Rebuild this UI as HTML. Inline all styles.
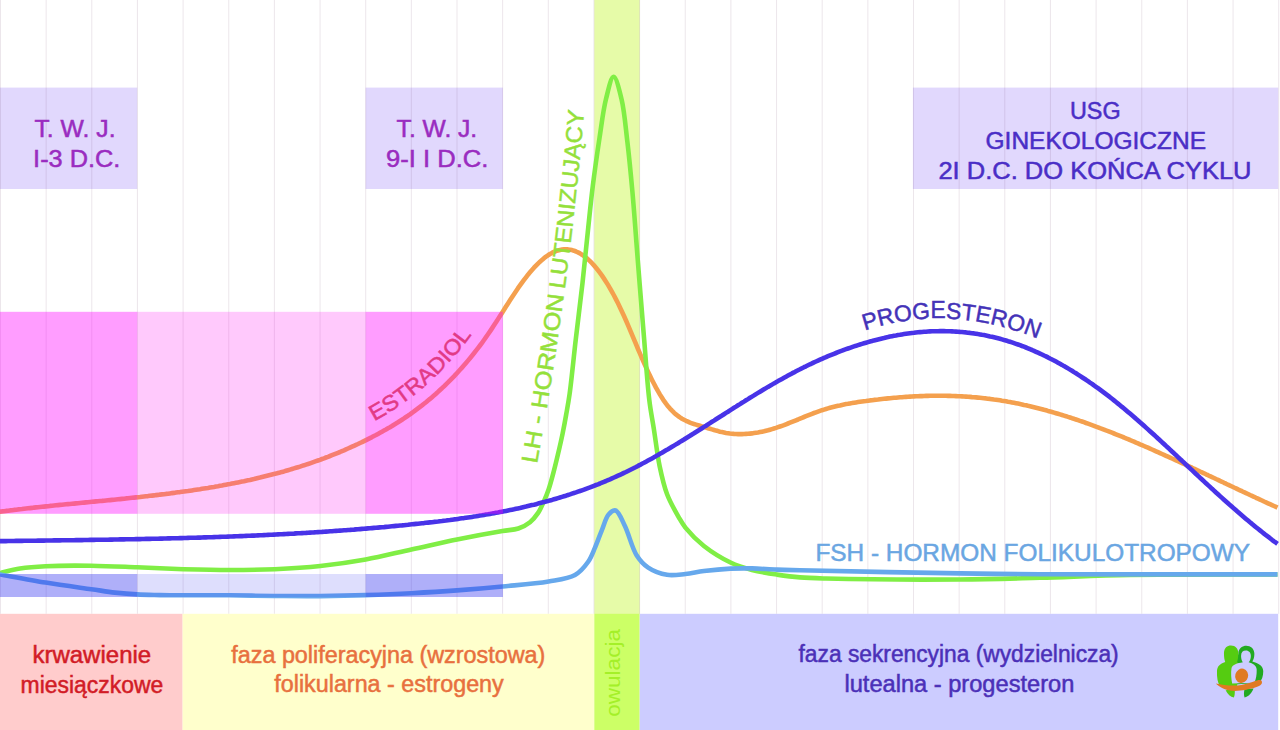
<!DOCTYPE html>
<html><head><meta charset="utf-8"><style>
html,body{margin:0;padding:0;background:#fff;}
body{width:1280px;height:730px;overflow:hidden;}
svg{display:block;}
text{font-family:"Liberation Sans",sans-serif;stroke-width:0.5;}
</style></head><body>
<svg width="1280" height="730" viewBox="0 0 1280 730">
<rect x="0" y="0" width="1280" height="730" fill="#fff"/>
<rect x="594.3" y="0" width="45.4" height="614" fill="#e6fba8"/>
<g fill="#e1d8fd">
<rect x="0" y="87.6" width="137.2" height="101.4"/>
<rect x="365.6" y="87.6" width="137.3" height="101.4"/>
<rect x="912.9" y="87.6" width="365.3" height="101.4"/>
</g>
<g stroke="#6a3c62" stroke-opacity="0.13" stroke-width="1">
<line x1="0.50" y1="0" x2="0.50" y2="613.8"/>
<line x1="46.15" y1="0" x2="46.15" y2="613.8"/>
<line x1="91.80" y1="0" x2="91.80" y2="613.8"/>
<line x1="137.45" y1="0" x2="137.45" y2="613.8"/>
<line x1="183.10" y1="0" x2="183.10" y2="613.8"/>
<line x1="228.75" y1="0" x2="228.75" y2="613.8"/>
<line x1="274.40" y1="0" x2="274.40" y2="613.8"/>
<line x1="320.05" y1="0" x2="320.05" y2="613.8"/>
<line x1="365.70" y1="0" x2="365.70" y2="613.8"/>
<line x1="411.35" y1="0" x2="411.35" y2="613.8"/>
<line x1="457.00" y1="0" x2="457.00" y2="613.8"/>
<line x1="502.65" y1="0" x2="502.65" y2="613.8"/>
<line x1="548.30" y1="0" x2="548.30" y2="613.8"/>
<line x1="593.95" y1="0" x2="593.95" y2="613.8"/>
<line x1="639.60" y1="0" x2="639.60" y2="613.8"/>
<line x1="685.25" y1="0" x2="685.25" y2="613.8"/>
<line x1="730.90" y1="0" x2="730.90" y2="613.8"/>
<line x1="776.55" y1="0" x2="776.55" y2="613.8"/>
<line x1="822.20" y1="0" x2="822.20" y2="613.8"/>
<line x1="867.85" y1="0" x2="867.85" y2="613.8"/>
<line x1="913.50" y1="0" x2="913.50" y2="613.8"/>
<line x1="959.15" y1="0" x2="959.15" y2="613.8"/>
<line x1="1004.80" y1="0" x2="1004.80" y2="613.8"/>
<line x1="1050.45" y1="0" x2="1050.45" y2="613.8"/>
<line x1="1096.10" y1="0" x2="1096.10" y2="613.8"/>
<line x1="1141.75" y1="0" x2="1141.75" y2="613.8"/>
<line x1="1187.40" y1="0" x2="1187.40" y2="613.8"/>
<line x1="1233.05" y1="0" x2="1233.05" y2="613.8"/>
<line x1="1278.70" y1="0" x2="1278.70" y2="613.8"/>
</g>
<g fill="none" stroke-width="4.6" stroke-linecap="butt" stroke-linejoin="round">
<path d="M-2.0,511.9 L0.0,511.7 L2.0,511.4 L4.0,511.2 L6.0,510.9 L8.0,510.7 L10.0,510.4 L12.0,510.2 L14.0,509.9 L16.0,509.7 L18.0,509.4 L20.0,509.2 L22.0,509.0 L24.0,508.7 L26.0,508.5 L28.0,508.3 L30.0,508.1 L32.0,507.9 L34.0,507.6 L36.0,507.4 L38.0,507.2 L40.0,507.0 L42.0,506.8 L44.0,506.6 L46.0,506.4 L48.0,506.2 L50.0,505.9 L52.0,505.7 L54.0,505.5 L56.0,505.3 L58.0,505.1 L60.0,504.9 L62.0,504.7 L64.0,504.5 L66.0,504.3 L68.0,504.1 L70.0,504.0 L72.0,503.8 L74.0,503.6 L76.0,503.4 L78.0,503.2 L80.0,503.0 L82.0,502.8 L84.0,502.6 L86.0,502.4 L88.0,502.2 L90.0,502.0 L92.0,501.8 L94.0,501.6 L96.0,501.4 L98.0,501.2 L100.0,501.0 L102.0,500.9 L104.0,500.7 L106.0,500.5 L108.0,500.3 L110.0,500.1 L112.0,499.9 L114.0,499.7 L116.0,499.5 L118.0,499.3 L120.0,499.1 L122.0,498.9 L124.0,498.7 L126.0,498.4 L128.0,498.2 L130.0,498.0 L132.0,497.8 L134.0,497.6 L136.0,497.4 L138.0,497.2 L140.0,497.0 L142.0,496.7 L144.0,496.5 L146.0,496.3 L148.0,496.1 L150.0,495.8 L152.0,495.6 L154.0,495.4 L156.0,495.1 L158.0,494.9 L160.0,494.6 L162.0,494.4 L164.0,494.2 L166.0,493.9 L168.0,493.7 L170.0,493.4 L172.0,493.1 L174.0,492.9 L176.0,492.6 L178.0,492.3 L180.0,492.1 L182.0,491.8 L184.0,491.5 L186.0,491.2 L188.0,491.0 L190.0,490.7 L192.0,490.4 L194.0,490.1 L196.0,489.8 L198.0,489.5 L200.0,489.2 L202.0,488.8 L204.0,488.5 L206.0,488.2 L208.0,487.9 L210.0,487.5 L212.0,487.2 L214.0,486.9 L216.0,486.5 L218.0,486.2 L220.0,485.8 L222.0,485.5 L224.0,485.1 L226.0,484.7 L228.0,484.3 L230.0,484.0 L232.0,483.6 L234.0,483.2 L236.0,482.8 L238.0,482.4 L240.0,482.0 L242.0,481.6 L244.0,481.2 L246.0,480.7 L248.0,480.3 L250.0,479.9 L252.0,479.4 L254.0,479.0 L256.0,478.5 L258.0,478.0 L260.0,477.6 L262.0,477.1 L264.0,476.6 L266.0,476.1 L268.0,475.6 L270.0,475.1 L272.0,474.6 L274.0,474.1 L276.0,473.6 L278.0,473.0 L280.0,472.5 L282.0,471.9 L284.0,471.4 L286.0,470.8 L288.0,470.2 L290.0,469.6 L292.0,469.0 L294.0,468.4 L296.0,467.8 L298.0,467.2 L300.0,466.6 L302.0,465.9 L304.0,465.3 L306.0,464.6 L308.0,464.0 L310.0,463.3 L312.0,462.6 L314.0,461.9 L316.0,461.2 L318.0,460.5 L320.0,459.8 L322.0,459.0 L324.0,458.3 L326.0,457.5 L328.0,456.8 L330.0,456.0 L332.0,455.2 L334.0,454.4 L336.0,453.6 L338.0,452.8 L340.0,452.0 L342.0,451.1 L344.0,450.3 L346.0,449.4 L348.0,448.5 L350.0,447.6 L352.0,446.7 L354.0,445.8 L356.0,444.9 L358.0,444.0 L360.0,443.0 L362.0,442.1 L364.0,441.1 L366.0,440.1 L368.0,439.1 L370.0,438.1 L372.0,437.1 L374.0,436.0 L376.0,435.0 L378.0,433.9 L380.0,432.8 L382.0,431.7 L384.0,430.6 L386.0,429.5 L388.0,428.3 L390.0,427.2 L392.0,426.0 L394.0,424.7 L396.0,423.5 L398.0,422.3 L400.0,421.0 L402.0,419.7 L404.0,418.4 L406.0,417.0 L408.0,415.7 L410.0,414.3 L412.0,412.8 L414.0,411.4 L416.0,409.9 L418.0,408.4 L420.0,406.9 L422.0,405.4 L424.0,403.8 L426.0,402.2 L428.0,400.5 L430.0,398.9 L432.0,397.2 L434.0,395.4 L436.0,393.7 L438.0,391.9 L440.0,390.0 L442.0,388.2 L444.0,386.3 L446.0,384.3 L448.0,382.4 L450.0,380.4 L452.0,378.3 L454.0,376.3 L456.0,374.2 L458.0,372.0 L460.0,369.8 L462.0,367.6 L464.0,365.3 L466.0,363.0 L468.0,360.6 L470.0,358.2 L472.0,355.8 L474.0,353.3 L476.0,350.7 L478.0,348.1 L480.0,345.5 L482.0,342.8 L484.0,340.0 L486.0,337.2 L488.0,334.3 L490.0,331.4 L492.0,328.4 L494.0,325.3 L496.0,322.3 L498.0,319.1 L500.0,316.0 L502.0,312.9 L504.0,309.7 L506.0,306.5 L508.0,303.4 L510.0,300.3 L512.0,297.2 L514.0,294.2 L516.0,291.2 L518.0,288.2 L520.0,285.4 L522.0,282.6 L524.0,279.9 L526.0,277.3 L528.0,274.7 L530.0,272.3 L532.0,270.0 L534.0,267.7 L536.0,265.6 L538.0,263.6 L540.0,261.7 L542.0,259.9 L544.0,258.2 L546.0,256.7 L548.0,255.3 L550.0,254.0 L552.0,252.9 L554.0,251.9 L556.0,251.1 L558.0,250.4 L560.0,249.9 L562.0,249.5 L564.0,249.3 L566.0,249.3 L568.0,249.4 L570.0,249.7 L572.0,250.1 L574.0,250.7 L576.0,251.5 L578.0,252.4 L580.0,253.4 L582.0,254.7 L584.0,256.1 L586.0,257.6 L588.0,259.3 L590.0,261.2 L592.0,263.2 L594.0,265.4 L596.0,267.7 L598.0,270.2 L600.0,272.8 L602.0,275.6 L604.0,278.6 L606.0,281.7 L608.0,284.9 L610.0,288.3 L612.0,291.9 L614.0,295.5 L616.0,299.4 L618.0,303.3 L620.0,307.4 L622.0,311.7 L624.0,316.0 L626.0,320.5 L628.0,325.2 L630.0,329.9 L632.0,334.6 L634.0,339.4 L636.0,344.2 L638.0,349.0 L640.0,353.6 L642.0,358.3 L644.0,362.8 L646.0,367.2 L648.0,371.6 L650.0,375.8 L652.0,379.9 L654.0,383.8 L656.0,387.6 L658.0,391.2 L660.0,394.6 L662.0,397.8 L664.0,400.9 L666.0,403.7 L668.0,406.3 L670.0,408.6 L672.0,410.7 L674.0,412.7 L676.0,414.4 L678.0,416.0 L680.0,417.4 L682.0,418.7 L684.0,419.8 L686.0,420.8 L688.0,421.7 L690.0,422.6 L692.0,423.3 L694.0,424.0 L696.0,424.6 L698.0,425.2 L700.0,425.8 L702.0,426.4 L704.0,427.0 L706.0,427.6 L708.0,428.2 L710.0,428.8 L712.0,429.4 L714.0,430.0 L716.0,430.6 L718.0,431.1 L720.0,431.7 L722.0,432.1 L724.0,432.5 L726.0,432.9 L728.0,433.2 L730.0,433.5 L732.0,433.7 L734.0,433.9 L736.0,434.0 L738.0,434.1 L740.0,434.1 L742.0,434.1 L744.0,434.0 L746.0,433.9 L748.0,433.8 L750.0,433.6 L752.0,433.4 L754.0,433.1 L756.0,432.8 L758.0,432.5 L760.0,432.1 L762.0,431.7 L764.0,431.3 L766.0,430.8 L768.0,430.3 L770.0,429.7 L772.0,429.1 L774.0,428.5 L776.0,427.9 L778.0,427.2 L780.0,426.5 L782.0,425.8 L784.0,425.1 L786.0,424.3 L788.0,423.5 L790.0,422.7 L792.0,421.9 L794.0,421.1 L796.0,420.3 L798.0,419.5 L800.0,418.6 L802.0,417.8 L804.0,417.0 L806.0,416.2 L808.0,415.4 L810.0,414.6 L812.0,413.8 L814.0,413.0 L816.0,412.3 L818.0,411.6 L820.0,410.9 L822.0,410.2 L824.0,409.6 L826.0,409.0 L828.0,408.4 L830.0,407.8 L832.0,407.3 L834.0,406.8 L836.0,406.3 L838.0,405.8 L840.0,405.4 L842.0,404.9 L844.0,404.5 L846.0,404.1 L848.0,403.8 L850.0,403.4 L852.0,403.1 L854.0,402.7 L856.0,402.4 L858.0,402.1 L860.0,401.8 L862.0,401.5 L864.0,401.2 L866.0,401.0 L868.0,400.7 L870.0,400.4 L872.0,400.2 L874.0,399.9 L876.0,399.7 L878.0,399.5 L880.0,399.2 L882.0,399.0 L884.0,398.8 L886.0,398.6 L888.0,398.4 L890.0,398.2 L892.0,398.0 L894.0,397.8 L896.0,397.7 L898.0,397.5 L900.0,397.3 L902.0,397.2 L904.0,397.0 L906.0,396.9 L908.0,396.8 L910.0,396.6 L912.0,396.5 L914.0,396.4 L916.0,396.3 L918.0,396.2 L920.0,396.1 L922.0,396.1 L924.0,396.0 L926.0,395.9 L928.0,395.9 L930.0,395.8 L932.0,395.8 L934.0,395.8 L936.0,395.8 L938.0,395.8 L940.0,395.8 L942.0,395.8 L944.0,395.8 L946.0,395.8 L948.0,395.9 L950.0,395.9 L952.0,396.0 L954.0,396.0 L956.0,396.1 L958.0,396.2 L960.0,396.3 L962.0,396.4 L964.0,396.5 L966.0,396.6 L968.0,396.8 L970.0,396.9 L972.0,397.1 L974.0,397.2 L976.0,397.4 L978.0,397.6 L980.0,397.8 L982.0,398.0 L984.0,398.2 L986.0,398.4 L988.0,398.7 L990.0,398.9 L992.0,399.2 L994.0,399.5 L996.0,399.7 L998.0,400.0 L1000.0,400.3 L1002.0,400.7 L1004.0,401.0 L1006.0,401.3 L1008.0,401.7 L1010.0,402.0 L1012.0,402.4 L1014.0,402.8 L1016.0,403.2 L1018.0,403.6 L1020.0,404.0 L1022.0,404.4 L1024.0,404.9 L1026.0,405.3 L1028.0,405.8 L1030.0,406.2 L1032.0,406.7 L1034.0,407.2 L1036.0,407.7 L1038.0,408.2 L1040.0,408.7 L1042.0,409.2 L1044.0,409.8 L1046.0,410.3 L1048.0,410.9 L1050.0,411.4 L1052.0,412.0 L1054.0,412.6 L1056.0,413.2 L1058.0,413.8 L1060.0,414.4 L1062.0,415.0 L1064.0,415.6 L1066.0,416.2 L1068.0,416.9 L1070.0,417.5 L1072.0,418.2 L1074.0,418.8 L1076.0,419.5 L1078.0,420.2 L1080.0,420.9 L1082.0,421.5 L1084.0,422.2 L1086.0,423.0 L1088.0,423.7 L1090.0,424.4 L1092.0,425.1 L1094.0,425.8 L1096.0,426.6 L1098.0,427.3 L1100.0,428.1 L1102.0,428.8 L1104.0,429.6 L1106.0,430.4 L1108.0,431.1 L1110.0,431.9 L1112.0,432.7 L1114.0,433.5 L1116.0,434.3 L1118.0,435.1 L1120.0,435.9 L1122.0,436.7 L1124.0,437.5 L1126.0,438.4 L1128.0,439.2 L1130.0,440.0 L1132.0,440.9 L1134.0,441.7 L1136.0,442.6 L1138.0,443.4 L1140.0,444.3 L1142.0,445.1 L1144.0,446.0 L1146.0,446.9 L1148.0,447.7 L1150.0,448.6 L1152.0,449.5 L1154.0,450.4 L1156.0,451.3 L1158.0,452.2 L1160.0,453.1 L1162.0,454.0 L1164.0,454.9 L1166.0,455.8 L1168.0,456.7 L1170.0,457.6 L1172.0,458.5 L1174.0,459.4 L1176.0,460.3 L1178.0,461.2 L1180.0,462.2 L1182.0,463.1 L1184.0,464.0 L1186.0,464.9 L1188.0,465.9 L1190.0,466.8 L1192.0,467.7 L1194.0,468.7 L1196.0,469.6 L1198.0,470.5 L1200.0,471.5 L1202.0,472.4 L1204.0,473.3 L1206.0,474.3 L1208.0,475.2 L1210.0,476.2 L1212.0,477.1 L1214.0,478.0 L1216.0,479.0 L1218.0,479.9 L1220.0,480.9 L1222.0,481.8 L1224.0,482.8 L1226.0,483.7 L1228.0,484.7 L1230.0,485.6 L1232.0,486.5 L1234.0,487.5 L1236.0,488.4 L1238.0,489.4 L1240.0,490.3 L1242.0,491.2 L1244.0,492.2 L1246.0,493.1 L1248.0,494.0 L1250.0,495.0 L1252.0,495.9 L1254.0,496.8 L1256.0,497.8 L1258.0,498.7 L1260.0,499.6 L1262.0,500.5 L1264.0,501.5 L1266.0,502.4 L1268.0,503.3 L1270.0,504.2 L1272.0,505.1 L1274.0,506.0 L1276.0,506.9 L1277.5,507.6" stroke="#f4a04e"/>
<path d="M-2.0,573.4 C-1.7,573.3 -1.0,573.2 0.0,573.0 C3.2,572.3 12.9,569.6 20.0,568.5 C28.0,567.3 35.9,566.7 45.6,566.2 C58.7,565.5 76.1,565.5 91.3,565.7 C106.5,565.9 121.7,566.7 137.0,567.3 C152.4,567.9 168.0,568.7 183.4,569.2 C198.7,569.6 213.9,570.0 229.1,570.0 C244.3,570.0 259.4,569.9 274.6,569.2 C289.8,568.5 305.1,567.6 320.3,566.0 C335.5,564.4 350.6,562.2 365.7,559.5 C381.0,556.7 396.2,552.8 411.4,549.5 C426.6,546.2 441.8,542.6 457.0,539.5 C472.2,536.4 491.2,532.9 502.5,531.0 C509.1,529.9 513.6,530.1 518.3,528.5 C522.6,527.0 526.7,524.9 530.0,522.2 C533.2,519.6 535.8,516.3 538.1,512.9 C540.5,509.4 542.2,505.1 544.0,501.2 C545.7,497.4 547.2,493.8 548.6,489.6 C550.3,484.6 551.8,478.9 553.3,473.2 C554.9,467.2 556.4,461.0 557.9,454.6 C559.5,447.8 561.2,440.4 562.6,433.6 C563.9,427.2 565.0,421.4 566.1,415.0 C567.3,408.2 568.4,402.6 569.6,394.0 C571.5,380.2 573.6,358.2 575.7,340.0 C577.9,321.3 580.4,301.4 582.5,283.0 C584.4,265.8 586.0,249.4 587.7,233.0 C589.4,217.1 590.8,201.7 592.8,186.0 C594.8,170.1 597.2,153.2 599.5,138.0 C601.6,124.3 603.2,110.1 606.0,99.0 C608.2,90.5 611.0,76.8 613.6,76.8 C616.2,76.8 619.4,90.3 621.5,99.0 C624.4,110.9 625.6,127.1 627.4,142.0 C629.3,157.9 630.9,175.1 632.4,191.6 C633.9,208.1 635.1,225.3 636.3,241.0 C637.4,255.3 638.3,267.2 639.5,282.0 C640.9,299.7 642.6,320.5 644.2,340.0 C645.8,359.8 647.3,383.5 649.3,400.0 C650.7,411.7 652.4,419.5 654.0,430.0 C655.8,441.5 657.3,454.8 659.6,466.0 C661.7,476.0 663.7,485.3 667.0,494.0 C670.1,502.2 675.0,510.7 678.5,516.8 C681.0,521.1 682.3,523.7 685.4,527.6 C689.9,533.1 696.8,540.4 703.9,546.0 C711.7,552.1 721.9,558.4 730.5,562.5 C737.8,566.0 744.5,568.0 752.0,570.0 C759.9,572.1 768.8,573.4 777.0,574.6 C784.8,575.8 792.1,576.8 800.0,577.4 C808.4,578.1 814.0,578.2 826.0,578.5 C853.3,579.2 921.1,579.8 960.0,579.5 C990.1,579.3 1012.6,578.5 1040.0,577.8 C1069.1,577.0 1096.3,575.6 1130.0,575.0 C1173.1,574.3 1252.9,574.6 1277.5,574.5" stroke="#80ee45"/>
<path d="M-2.0,574.1 C-1.7,574.1 -1.1,574.2 0.0,574.4 C5.3,575.3 30.4,580.1 45.6,582.6 C60.8,585.1 78.6,587.4 91.3,589.2 C100.5,590.5 107.2,591.7 115.0,592.6 C122.5,593.4 129.6,594.0 137.0,594.4 C144.6,594.8 152.3,594.9 160.0,595.1 C167.8,595.3 174.3,595.3 183.4,595.3 C196.1,595.4 213.9,595.2 229.1,595.3 C244.3,595.4 259.4,595.9 274.6,596.0 C289.8,596.1 305.1,596.3 320.3,596.1 C335.5,595.9 350.5,595.6 365.7,595.1 C380.9,594.6 396.2,594.0 411.4,593.2 C426.6,592.4 441.8,591.5 457.0,590.4 C472.2,589.3 487.3,588.0 502.5,586.5 C517.8,585.0 535.4,583.8 548.6,581.5 C558.7,579.7 568.1,578.9 575.0,575.0 C580.6,571.8 584.6,566.8 588.0,562.0 C591.2,557.6 592.8,552.6 595.0,547.6 C597.3,542.3 599.3,536.3 601.6,530.8 C603.9,525.3 605.6,517.9 608.6,514.5 C610.6,512.2 613.4,509.9 615.6,510.5 C618.9,511.4 621.9,519.9 624.9,526.0 C628.9,534.1 631.9,547.8 636.6,555.2 C640.0,560.6 643.4,564.4 648.2,567.6 C653.4,571.1 660.7,573.8 667.0,574.8 C673.1,575.8 679.3,574.6 685.4,574.0 C691.6,573.4 697.2,571.8 703.9,571.0 C711.9,570.0 722.1,569.0 730.5,568.6 C738.0,568.2 744.6,568.3 752.0,568.4 C760.0,568.6 768.8,569.3 777.0,569.6 C784.8,569.9 788.9,570.0 800.0,570.3 C829.3,571.0 915.8,572.8 960.0,573.4 C991.2,573.9 1006.3,574.0 1040.0,574.2 C1098.1,574.5 1237.9,574.4 1277.5,574.4" stroke="#66a8ec"/>
<path d="M-2.0,541.2 L0.0,541.1 L2.0,541.1 L4.0,541.1 L6.0,541.1 L8.0,541.0 L10.0,541.0 L12.0,541.0 L14.0,541.0 L16.0,540.9 L18.0,540.9 L20.0,540.9 L22.0,540.9 L24.0,540.8 L26.0,540.8 L28.0,540.8 L30.0,540.8 L32.0,540.7 L34.0,540.7 L36.0,540.7 L38.0,540.6 L40.0,540.6 L42.0,540.6 L44.0,540.6 L46.0,540.5 L48.0,540.5 L50.0,540.5 L52.0,540.5 L54.0,540.4 L56.0,540.4 L58.0,540.4 L60.0,540.4 L62.0,540.3 L64.0,540.3 L66.0,540.3 L68.0,540.3 L70.0,540.2 L72.0,540.2 L74.0,540.2 L76.0,540.1 L78.0,540.1 L80.0,540.1 L82.0,540.1 L84.0,540.0 L86.0,540.0 L88.0,540.0 L90.0,539.9 L92.0,539.9 L94.0,539.9 L96.0,539.8 L98.0,539.8 L100.0,539.8 L102.0,539.7 L104.0,539.7 L106.0,539.7 L108.0,539.7 L110.0,539.6 L112.0,539.6 L114.0,539.5 L116.0,539.5 L118.0,539.5 L120.0,539.4 L122.0,539.4 L124.0,539.4 L126.0,539.3 L128.0,539.3 L130.0,539.3 L132.0,539.2 L134.0,539.2 L136.0,539.1 L138.0,539.1 L140.0,539.1 L142.0,539.0 L144.0,539.0 L146.0,538.9 L148.0,538.9 L150.0,538.9 L152.0,538.8 L154.0,538.8 L156.0,538.7 L158.0,538.7 L160.0,538.6 L162.0,538.6 L164.0,538.5 L166.0,538.5 L168.0,538.4 L170.0,538.4 L172.0,538.3 L174.0,538.3 L176.0,538.2 L178.0,538.2 L180.0,538.1 L182.0,538.1 L184.0,538.0 L186.0,538.0 L188.0,537.9 L190.0,537.8 L192.0,537.8 L194.0,537.7 L196.0,537.7 L198.0,537.6 L200.0,537.6 L202.0,537.5 L204.0,537.4 L206.0,537.4 L208.0,537.3 L210.0,537.2 L212.0,537.2 L214.0,537.1 L216.0,537.0 L218.0,537.0 L220.0,536.9 L222.0,536.8 L224.0,536.8 L226.0,536.7 L228.0,536.6 L230.0,536.5 L232.0,536.5 L234.0,536.4 L236.0,536.3 L238.0,536.2 L240.0,536.1 L242.0,536.1 L244.0,536.0 L246.0,535.9 L248.0,535.8 L250.0,535.7 L252.0,535.6 L254.0,535.6 L256.0,535.5 L258.0,535.4 L260.0,535.3 L262.0,535.2 L264.0,535.1 L266.0,535.0 L268.0,534.9 L270.0,534.8 L272.0,534.7 L274.0,534.6 L276.0,534.5 L278.0,534.4 L280.0,534.3 L282.0,534.2 L284.0,534.1 L286.0,534.0 L288.0,533.9 L290.0,533.8 L292.0,533.7 L294.0,533.6 L296.0,533.4 L298.0,533.3 L300.0,533.2 L302.0,533.1 L304.0,533.0 L306.0,532.9 L308.0,532.7 L310.0,532.6 L312.0,532.5 L314.0,532.4 L316.0,532.2 L318.0,532.1 L320.0,532.0 L322.0,531.9 L324.0,531.7 L326.0,531.6 L328.0,531.5 L330.0,531.3 L332.0,531.2 L334.0,531.0 L336.0,530.9 L338.0,530.8 L340.0,530.6 L342.0,530.5 L344.0,530.3 L346.0,530.2 L348.0,530.0 L350.0,529.9 L352.0,529.7 L354.0,529.6 L356.0,529.4 L358.0,529.3 L360.0,529.1 L362.0,528.9 L364.0,528.8 L366.0,528.6 L368.0,528.4 L370.0,528.3 L372.0,528.1 L374.0,527.9 L376.0,527.8 L378.0,527.6 L380.0,527.4 L382.0,527.2 L384.0,527.1 L386.0,526.9 L388.0,526.7 L390.0,526.5 L392.0,526.3 L394.0,526.1 L396.0,525.9 L398.0,525.7 L400.0,525.5 L402.0,525.4 L404.0,525.2 L406.0,525.0 L408.0,524.8 L410.0,524.5 L412.0,524.3 L414.0,524.1 L416.0,523.9 L418.0,523.7 L420.0,523.5 L422.0,523.3 L424.0,523.1 L426.0,522.8 L428.0,522.6 L430.0,522.4 L432.0,522.2 L434.0,521.9 L436.0,521.7 L438.0,521.5 L440.0,521.2 L442.0,521.0 L444.0,520.7 L446.0,520.5 L448.0,520.2 L450.0,520.0 L452.0,519.7 L454.0,519.4 L456.0,519.2 L458.0,518.9 L460.0,518.6 L462.0,518.3 L464.0,518.1 L466.0,517.8 L468.0,517.5 L470.0,517.2 L472.0,516.9 L474.0,516.6 L476.0,516.3 L478.0,515.9 L480.0,515.6 L482.0,515.3 L484.0,514.9 L486.0,514.6 L488.0,514.3 L490.0,513.9 L492.0,513.6 L494.0,513.2 L496.0,512.8 L498.0,512.5 L500.0,512.1 L502.0,511.7 L504.0,511.3 L506.0,510.9 L508.0,510.5 L510.0,510.1 L512.0,509.7 L514.0,509.3 L516.0,508.8 L518.0,508.4 L520.0,508.0 L522.0,507.5 L524.0,507.0 L526.0,506.6 L528.0,506.1 L530.0,505.6 L532.0,505.1 L534.0,504.7 L536.0,504.2 L538.0,503.6 L540.0,503.1 L542.0,502.6 L544.0,502.1 L546.0,501.5 L548.0,501.0 L550.0,500.4 L552.0,499.9 L554.0,499.3 L556.0,498.7 L558.0,498.1 L560.0,497.5 L562.0,496.9 L564.0,496.3 L566.0,495.7 L568.0,495.0 L570.0,494.4 L572.0,493.7 L574.0,493.0 L576.0,492.4 L578.0,491.7 L580.0,491.0 L582.0,490.3 L584.0,489.6 L586.0,488.8 L588.0,488.1 L590.0,487.4 L592.0,486.6 L594.0,485.8 L596.0,485.0 L598.0,484.3 L600.0,483.5 L602.0,482.6 L604.0,481.8 L606.0,481.0 L608.0,480.1 L610.0,479.3 L612.0,478.4 L614.0,477.5 L616.0,476.6 L618.0,475.7 L620.0,474.8 L622.0,473.9 L624.0,472.9 L626.0,472.0 L628.0,471.0 L630.0,470.0 L632.0,469.0 L634.0,468.0 L636.0,467.0 L638.0,465.9 L640.0,464.9 L642.0,463.8 L644.0,462.8 L646.0,461.7 L648.0,460.6 L650.0,459.5 L652.0,458.4 L654.0,457.3 L656.0,456.1 L658.0,455.0 L660.0,453.8 L662.0,452.7 L664.0,451.5 L666.0,450.3 L668.0,449.2 L670.0,448.0 L672.0,446.8 L674.0,445.6 L676.0,444.4 L678.0,443.2 L680.0,441.9 L682.0,440.7 L684.0,439.5 L686.0,438.2 L688.0,437.0 L690.0,435.8 L692.0,434.5 L694.0,433.3 L696.0,432.0 L698.0,430.7 L700.0,429.5 L702.0,428.2 L704.0,426.9 L706.0,425.7 L708.0,424.4 L710.0,423.1 L712.0,421.8 L714.0,420.6 L716.0,419.3 L718.0,418.0 L720.0,416.7 L722.0,415.5 L724.0,414.2 L726.0,412.9 L728.0,411.7 L730.0,410.4 L732.0,409.1 L734.0,407.8 L736.0,406.6 L738.0,405.3 L740.0,404.1 L742.0,402.8 L744.0,401.6 L746.0,400.3 L748.0,399.1 L750.0,397.8 L752.0,396.6 L754.0,395.4 L756.0,394.1 L758.0,392.9 L760.0,391.7 L762.0,390.5 L764.0,389.3 L766.0,388.1 L768.0,386.9 L770.0,385.8 L772.0,384.6 L774.0,383.4 L776.0,382.3 L778.0,381.1 L780.0,380.0 L782.0,378.9 L784.0,377.8 L786.0,376.7 L788.0,375.6 L790.0,374.5 L792.0,373.4 L794.0,372.4 L796.0,371.3 L798.0,370.3 L800.0,369.3 L802.0,368.2 L804.0,367.2 L806.0,366.3 L808.0,365.3 L810.0,364.3 L812.0,363.4 L814.0,362.4 L816.0,361.5 L818.0,360.6 L820.0,359.7 L822.0,358.8 L824.0,357.9 L826.0,357.1 L828.0,356.2 L830.0,355.4 L832.0,354.6 L834.0,353.8 L836.0,353.0 L838.0,352.2 L840.0,351.4 L842.0,350.7 L844.0,349.9 L846.0,349.2 L848.0,348.5 L850.0,347.8 L852.0,347.1 L854.0,346.4 L856.0,345.8 L858.0,345.1 L860.0,344.5 L862.0,343.9 L864.0,343.3 L866.0,342.7 L868.0,342.1 L870.0,341.5 L872.0,341.0 L874.0,340.4 L876.0,339.9 L878.0,339.4 L880.0,338.9 L882.0,338.4 L884.0,338.0 L886.0,337.5 L888.0,337.1 L890.0,336.6 L892.0,336.2 L894.0,335.8 L896.0,335.5 L898.0,335.1 L900.0,334.8 L902.0,334.4 L904.0,334.1 L906.0,333.8 L908.0,333.5 L910.0,333.2 L912.0,333.0 L914.0,332.8 L916.0,332.5 L918.0,332.3 L920.0,332.1 L922.0,332.0 L924.0,331.8 L926.0,331.7 L928.0,331.5 L930.0,331.4 L932.0,331.3 L934.0,331.3 L936.0,331.2 L938.0,331.2 L940.0,331.1 L942.0,331.1 L944.0,331.1 L946.0,331.2 L948.0,331.2 L950.0,331.3 L952.0,331.4 L954.0,331.5 L956.0,331.6 L958.0,331.7 L960.0,331.9 L962.0,332.0 L964.0,332.2 L966.0,332.4 L968.0,332.7 L970.0,332.9 L972.0,333.2 L974.0,333.4 L976.0,333.7 L978.0,334.1 L980.0,334.4 L982.0,334.8 L984.0,335.1 L986.0,335.5 L988.0,335.9 L990.0,336.4 L992.0,336.8 L994.0,337.3 L996.0,337.8 L998.0,338.3 L1000.0,338.8 L1002.0,339.4 L1004.0,340.0 L1006.0,340.5 L1008.0,341.2 L1010.0,341.8 L1012.0,342.4 L1014.0,343.1 L1016.0,343.8 L1018.0,344.5 L1020.0,345.2 L1022.0,346.0 L1024.0,346.7 L1026.0,347.5 L1028.0,348.3 L1030.0,349.2 L1032.0,350.0 L1034.0,350.9 L1036.0,351.8 L1038.0,352.7 L1040.0,353.6 L1042.0,354.5 L1044.0,355.5 L1046.0,356.4 L1048.0,357.4 L1050.0,358.5 L1052.0,359.5 L1054.0,360.5 L1056.0,361.6 L1058.0,362.7 L1060.0,363.8 L1062.0,364.9 L1064.0,366.1 L1066.0,367.2 L1068.0,368.4 L1070.0,369.6 L1072.0,370.8 L1074.0,372.1 L1076.0,373.3 L1078.0,374.6 L1080.0,375.9 L1082.0,377.2 L1084.0,378.5 L1086.0,379.8 L1088.0,381.2 L1090.0,382.6 L1092.0,383.9 L1094.0,385.4 L1096.0,386.8 L1098.0,388.2 L1100.0,389.7 L1102.0,391.2 L1104.0,392.7 L1106.0,394.2 L1108.0,395.7 L1110.0,397.2 L1112.0,398.8 L1114.0,400.4 L1116.0,402.0 L1118.0,403.6 L1120.0,405.2 L1122.0,406.9 L1124.0,408.5 L1126.0,410.2 L1128.0,411.9 L1130.0,413.6 L1132.0,415.3 L1134.0,417.0 L1136.0,418.8 L1138.0,420.5 L1140.0,422.3 L1142.0,424.0 L1144.0,425.8 L1146.0,427.6 L1148.0,429.4 L1150.0,431.2 L1152.0,433.0 L1154.0,434.8 L1156.0,436.6 L1158.0,438.5 L1160.0,440.3 L1162.0,442.2 L1164.0,444.0 L1166.0,445.9 L1168.0,447.7 L1170.0,449.6 L1172.0,451.5 L1174.0,453.3 L1176.0,455.2 L1178.0,457.1 L1180.0,459.0 L1182.0,460.8 L1184.0,462.7 L1186.0,464.6 L1188.0,466.5 L1190.0,468.3 L1192.0,470.2 L1194.0,472.1 L1196.0,474.0 L1198.0,475.8 L1200.0,477.7 L1202.0,479.5 L1204.0,481.4 L1206.0,483.3 L1208.0,485.1 L1210.0,486.9 L1212.0,488.8 L1214.0,490.6 L1216.0,492.5 L1218.0,494.3 L1220.0,496.1 L1222.0,497.9 L1224.0,499.7 L1226.0,501.5 L1228.0,503.3 L1230.0,505.1 L1232.0,506.8 L1234.0,508.6 L1236.0,510.3 L1238.0,512.1 L1240.0,513.8 L1242.0,515.5 L1244.0,517.2 L1246.0,518.9 L1248.0,520.6 L1250.0,522.3 L1252.0,523.9 L1254.0,525.6 L1256.0,527.2 L1258.0,528.8 L1260.0,530.4 L1262.0,532.0 L1264.0,533.6 L1266.0,535.2 L1268.0,536.7 L1270.0,538.2 L1272.0,539.8 L1274.0,541.3 L1276.0,542.7 L1277.5,543.8" stroke="#4833e8"/>
</g>
<rect x="0" y="311.8" width="137.2" height="202" fill="#ff00ff" fill-opacity="0.385"/>
<rect x="137.2" y="311.8" width="228.4" height="202" fill="#ff00f0" fill-opacity="0.21"/>
<rect x="365.6" y="311.8" width="137.3" height="202" fill="#ff00ff" fill-opacity="0.385"/>
<rect x="0" y="574" width="137.2" height="23" fill="#3030f0" fill-opacity="0.385"/>
<rect x="137.2" y="574" width="228.4" height="23" fill="#3030f0" fill-opacity="0.16"/>
<rect x="365.6" y="574" width="137.3" height="23" fill="#3030f0" fill-opacity="0.385"/>
<rect x="0" y="613.8" width="182.6" height="116.2" fill="#ffcccc"/>
<rect x="182.6" y="613.8" width="411.7" height="116.2" fill="#ffffcc"/>
<rect x="594.3" y="613.8" width="45.4" height="116.2" fill="#ccff66"/>
<rect x="639.7" y="613.8" width="638.5" height="116.2" fill="#ccccff"/>
<text x="75.0" y="137.0" fill="#9a2cc0" stroke="#9a2cc0" font-size="23" text-anchor="middle" textLength="81.0" lengthAdjust="spacingAndGlyphs">T. W. J.</text>
<text x="76.7" y="167.0" fill="#9a2cc0" stroke="#9a2cc0" font-size="23" text-anchor="middle" textLength="87.2" lengthAdjust="spacingAndGlyphs">I-3 D.C.</text>
<text x="436.9" y="137.2" fill="#9a2cc0" stroke="#9a2cc0" font-size="23" text-anchor="middle" textLength="80.6" lengthAdjust="spacingAndGlyphs">T. W. J.</text>
<text x="437.2" y="167.0" fill="#9a2cc0" stroke="#9a2cc0" font-size="23" text-anchor="middle" textLength="102.3" lengthAdjust="spacingAndGlyphs">9-I I D.C.</text>
<text x="1095.3" y="118.7" fill="#4a2ec6" stroke="#4a2ec6" font-size="23" text-anchor="middle" textLength="50.6" lengthAdjust="spacingAndGlyphs">USG</text>
<text x="1095.8" y="149.0" fill="#4a2ec6" stroke="#4a2ec6" font-size="23" text-anchor="middle" textLength="220.5" lengthAdjust="spacingAndGlyphs">GINEKOLOGICZNE</text>
<text x="1095.0" y="178.5" fill="#4a2ec6" stroke="#4a2ec6" font-size="23" text-anchor="middle" textLength="313.1" lengthAdjust="spacingAndGlyphs">2I D.C. DO KOŃCA CYKLU</text>
<text x="91.8" y="663.2" fill="#d21c26" stroke="#d21c26" font-size="23" text-anchor="middle" textLength="118.8" lengthAdjust="spacingAndGlyphs">krwawienie</text>
<text x="91.9" y="693.1" fill="#d21c26" stroke="#d21c26" font-size="23" text-anchor="middle" textLength="142.6" lengthAdjust="spacingAndGlyphs">miesiączkowe</text>
<text x="388.3" y="662.7" fill="#e8703e" stroke="#e8703e" font-size="23" text-anchor="middle" textLength="314.1" lengthAdjust="spacingAndGlyphs">faza poliferacyjna (wzrostowa)</text>
<text x="389.0" y="692.4" fill="#e8703e" stroke="#e8703e" font-size="23" text-anchor="middle" textLength="229.5" lengthAdjust="spacingAndGlyphs">folikularna - estrogeny</text>
<text x="958.6" y="662.4" fill="#4b30b8" stroke="#4b30b8" font-size="23" text-anchor="middle" textLength="320.1" lengthAdjust="spacingAndGlyphs">faza sekrencyjna (wydzielnicza)</text>
<text x="959.4" y="692.4" fill="#4b30b8" stroke="#4b30b8" font-size="23" text-anchor="middle" textLength="229.9" lengthAdjust="spacingAndGlyphs">lutealna - progesteron</text>
<text x="815.4" y="560.5" fill="#6aa6e2" stroke="#6aa6e2" font-size="24" text-anchor="start" textLength="434.7" lengthAdjust="spacingAndGlyphs">FSH - HORMON FOLIKULOTROPOWY</text>
<g transform="translate(620,716.8) rotate(-90)"><text x="0.0" y="0.0" fill="#a4f028" stroke="#a4f028" font-size="21" text-anchor="start" textLength="87.8" lengthAdjust="spacingAndGlyphs" style="stroke-width:0">owulacja</text></g>
<path id="esarc" d="M374.25,421.16 L375.21,420.63 L376.18,420.09 L377.14,419.56 L378.10,419.02 L379.06,418.47 L380.02,417.92 L380.98,417.36 L381.94,416.81 L382.90,416.24 L383.86,415.68 L384.82,415.10 L385.78,414.53 L386.74,413.95 L387.70,413.36 L388.66,412.77 L389.62,412.17 L390.57,411.57 L391.53,410.97 L392.49,410.36 L393.44,409.74 L394.40,409.12 L395.36,408.49 L396.31,407.86 L397.27,407.23 L398.23,406.58 L399.18,405.94 L400.14,405.28 L401.09,404.62 L402.05,403.96 L403.00,403.29 L403.96,402.61 L404.91,401.93 L405.87,401.24 L406.82,400.54 L407.78,399.84 L408.73,399.13 L409.69,398.42 L410.64,397.70 L411.60,396.97 L412.55,396.23 L413.51,395.49 L414.46,394.75 L415.42,393.99 L416.37,393.23 L417.33,392.46 L418.28,391.69 L419.24,390.90 L420.19,390.11 L421.15,389.32 L422.10,388.51 L423.06,387.70 L424.01,386.88 L424.97,386.05 L425.93,385.22 L426.88,384.37 L427.84,383.52 L428.79,382.67 L429.75,381.80 L430.71,380.92 L431.66,380.04 L432.62,379.15 L433.58,378.25 L434.53,377.34 L435.49,376.43 L436.45,375.50 L437.41,374.57 L438.36,373.63 L439.32,372.68 L440.28,371.72 L441.24,370.75 L442.20,369.77 L443.16,368.78 L444.12,367.79 L445.08,366.78 L446.04,365.77 L447.00,364.74 L447.96,363.71 L448.92,362.67 L449.88,361.62 L450.84,360.56 L451.80,359.48 L452.76,358.40 L453.72,357.31 L454.68,356.21 L455.64,355.10 L456.60,353.98 L457.56,352.84 L458.52,351.70 L459.48,350.54 L460.45,349.38 L461.41,348.20 L462.37,347.01 L463.33,345.81 L464.29,344.59 L465.25,343.37 L466.21,342.13 L467.18,340.88 L468.14,339.61 L469.10,338.34 L470.06,337.05 L471.03,335.74 L471.99,334.43 L472.95,333.10 L473.92,331.75 L474.88,330.39 L475.85,329.02 L476.81,327.63 L477.78,326.23 L478.74,324.82 L479.71,323.39 L480.68,321.94 L481.65,320.47 L482.63,318.99 L483.60,317.49 L484.58,315.98 L485.57,314.45 L486.55,312.92 L487.54,311.37 L488.53,309.82" fill="none"/>
<text font-size="21.8" fill="#e23a85" stroke="#e23a85" textLength="131.5" lengthAdjust="spacingAndGlyphs"><textPath href="#esarc">ESTRADIOL</textPath></text>
<path id="lharc" d="M533.81,481.68 L533.99,480.69 L534.17,479.71 L534.35,478.72 L534.53,477.74 L534.71,476.76 L534.89,475.77 L535.07,474.79 L535.25,473.81 L535.43,472.82 L535.61,471.84 L535.79,470.85 L535.97,469.87 L536.14,468.89 L536.32,467.90 L536.50,466.92 L536.68,465.94 L536.86,464.95 L537.04,463.97 L537.22,462.98 L537.40,462.00 L537.51,461.42 L537.61,460.83 L537.72,460.25 L537.83,459.66 L537.93,459.08 L538.04,458.49 L538.14,457.91 L538.25,457.33 L538.35,456.74 L538.46,456.16 L538.57,455.57 L538.67,454.99 L538.78,454.40 L538.88,453.82 L538.99,453.24 L539.09,452.65 L539.20,452.07 L539.30,451.48 L539.41,450.90 L539.51,450.31 L539.62,449.73 L539.72,449.15 L539.82,448.56 L539.93,447.98 L540.03,447.39 L540.14,446.81 L540.24,446.22 L540.34,445.64 L540.45,445.06 L540.55,444.47 L540.66,443.89 L540.76,443.30 L540.86,442.72 L540.97,442.13 L541.07,441.55 L541.17,440.96 L541.28,440.38 L541.38,439.80 L541.48,439.21 L541.58,438.63 L541.69,438.04 L541.79,437.46 L541.89,436.87 L541.99,436.29 L542.10,435.71 L542.20,435.12 L542.30,434.54 L542.40,433.95 L542.50,433.37 L542.61,432.78 L542.71,432.20 L542.81,431.62 L542.91,431.03 L543.01,430.45 L543.11,429.86 L543.21,429.28 L543.32,428.69 L543.42,428.11 L543.52,427.53 L543.62,426.94 L543.72,426.36 L543.82,425.77 L543.92,425.19 L544.02,424.60 L544.12,424.02 L544.22,423.44 L544.32,422.85 L544.42,422.27 L544.52,421.68 L544.62,421.10 L544.72,420.51 L544.82,419.93 L544.92,419.35 L545.02,418.76 L545.12,418.18 L545.22,417.59 L545.32,417.01 L545.42,416.42 L545.52,415.84 L545.61,415.26 L545.71,414.67 L545.81,414.09 L545.91,413.50 L546.01,412.92 L546.11,412.33 L546.21,411.75 L546.30,411.17 L546.40,410.58 L546.50,410.00 L546.60,409.41 L546.70,408.83 L546.79,408.24 L546.89,407.66 L546.99,407.08 L547.09,406.49 L547.18,405.91 L547.28,405.32 L547.38,404.74 L547.47,404.15 L547.57,403.57 L547.67,402.98 L547.77,402.40 L547.86,401.82 L547.96,401.23 L548.06,400.65 L548.15,400.06 L548.25,399.48 L548.34,398.89 L548.44,398.31 L548.54,397.73 L548.63,397.14 L548.73,396.56 L548.82,395.97 L548.92,395.39 L549.01,394.80 L549.11,394.22 L549.21,393.64 L549.30,393.05 L549.40,392.47 L549.49,391.88 L549.59,391.30 L549.68,390.71 L549.78,390.13 L549.87,389.55 L549.96,388.96 L550.06,388.38 L550.15,387.79 L550.25,387.21 L550.34,386.62 L550.44,386.04 L550.53,385.46 L550.62,384.87 L550.72,384.29 L550.81,383.70 L550.91,383.12 L551.00,382.53 L551.09,381.95 L551.19,381.37 L551.28,380.78 L551.37,380.20 L551.46,379.61 L551.56,379.03 L551.65,378.44 L551.74,377.86 L551.84,377.28 L551.93,376.69 L552.02,376.11 L552.11,375.52 L552.21,374.94 L552.30,374.35 L552.39,373.77 L552.48,373.19 L552.57,372.60 L552.67,372.02 L552.76,371.43 L552.85,370.85 L552.94,370.26 L553.03,369.68 L553.12,369.10 L553.21,368.51 L553.31,367.93 L553.40,367.34 L553.49,366.76 L553.58,366.17 L553.67,365.59 L553.76,365.01 L553.85,364.42 L553.94,363.84 L554.03,363.25 L554.12,362.67 L554.21,362.08 L554.30,361.50 L554.39,360.91 L554.48,360.33 L554.57,359.75 L554.66,359.16 L554.75,358.58 L554.84,357.99 L554.93,357.41 L555.02,356.82 L555.11,356.24 L555.20,355.66 L555.29,355.07 L555.38,354.49 L555.46,353.90 L555.55,353.32 L555.64,352.73 L555.73,352.15 L555.82,351.57 L555.91,350.98 L555.99,350.40 L556.08,349.81 L556.17,349.23 L556.26,348.64 L556.35,348.06 L556.43,347.48 L556.52,346.89 L556.61,346.31 L556.70,345.72 L556.78,345.14 L556.87,344.55 L556.96,343.97 L557.05,343.39 L557.13,342.80 L557.22,342.22 L557.31,341.63 L557.39,341.05 L557.48,340.46 L557.57,339.88 L557.65,339.30 L557.74,338.71 L557.83,338.13 L557.91,337.54 L558.00,336.96 L558.08,336.37 L558.17,335.79 L558.26,335.21 L558.34,334.62 L558.43,334.04 L558.51,333.45 L558.60,332.87 L558.68,332.28 L558.77,331.70 L558.85,331.12 L558.94,330.53 L559.02,329.95 L559.11,329.36 L559.19,328.78 L559.28,328.19 L559.36,327.61 L559.45,327.03 L559.53,326.44 L559.61,325.86 L559.70,325.27 L559.78,324.69 L559.87,324.10 L559.95,323.52 L560.03,322.93 L560.12,322.35 L560.20,321.77 L560.28,321.18 L560.37,320.60 L560.45,320.01 L560.53,319.43 L560.62,318.84 L560.70,318.26 L560.78,317.68 L560.87,317.09 L560.95,316.51 L561.03,315.92 L561.11,315.34 L561.20,314.75 L561.28,314.17 L561.36,313.59 L561.44,313.00 L561.53,312.42 L561.61,311.83 L561.69,311.25 L561.77,310.66 L561.85,310.08 L561.93,309.50 L562.02,308.91 L562.10,308.33 L562.18,307.74 L562.26,307.16 L562.34,306.57 L562.42,305.99 L562.50,305.41 L562.58,304.82 L562.66,304.24 L562.74,303.65 L562.82,303.07 L562.90,302.48 L562.99,301.90 L563.07,301.32 L563.15,300.73 L563.23,300.15 L563.31,299.56 L563.39,298.98 L563.46,298.39 L563.54,297.81 L563.62,297.23 L563.70,296.64 L563.78,296.06 L563.86,295.47 L563.94,294.89 L564.02,294.30 L564.10,293.72 L564.18,293.14 L564.26,292.55 L564.34,291.97 L564.41,291.38 L564.49,290.80 L564.57,290.21 L564.65,289.63 L564.73,289.05 L564.81,288.46 L564.88,287.88 L564.96,287.29 L565.04,286.71 L565.12,286.12 L565.19,285.54 L565.27,284.95 L565.35,284.37 L565.43,283.79 L565.50,283.20 L565.58,282.62 L565.66,282.03 L565.73,281.45 L565.81,280.86 L565.89,280.28 L565.96,279.70 L566.04,279.11 L566.12,278.53 L566.19,277.94 L566.27,277.36 L566.35,276.77 L566.42,276.19 L566.50,275.61 L566.57,275.02 L566.65,274.44 L566.73,273.85 L566.80,273.27 L566.88,272.68 L566.95,272.10 L567.03,271.52 L567.10,270.93 L567.18,270.35 L567.25,269.76 L567.33,269.18 L567.40,268.59 L567.48,268.01 L567.55,267.43 L567.63,266.84 L567.70,266.26 L567.78,265.67 L567.85,265.09 L567.92,264.50 L568.00,263.92 L568.07,263.34 L568.15,262.75 L568.22,262.17 L568.29,261.58 L568.37,261.00 L568.44,260.41 L568.51,259.83 L568.59,259.25 L568.66,258.66 L568.73,258.08 L568.81,257.49 L568.88,256.91 L568.95,256.32 L569.02,255.74 L569.10,255.16 L569.17,254.57 L569.24,253.99 L569.31,253.40 L569.39,252.82 L569.46,252.23 L569.53,251.65 L569.60,251.07 L569.68,250.48 L569.75,249.90 L569.82,249.31 L569.89,248.73 L569.96,248.14 L570.03,247.56 L570.10,246.97 L570.18,246.39 L570.25,245.81 L570.32,245.22 L570.39,244.64 L570.46,244.05 L570.53,243.47 L570.60,242.88 L570.67,242.30 L570.74,241.72 L570.81,241.13 L570.88,240.55 L570.95,239.96 L571.02,239.38 L571.09,238.79 L571.16,238.21 L571.23,237.63 L571.30,237.04 L571.37,236.46 L571.44,235.87 L571.51,235.29 L571.58,234.70 L571.65,234.12 L571.72,233.54 L571.79,232.95 L571.85,232.37 L571.92,231.78 L571.99,231.20 L572.06,230.61 L572.13,230.03 L572.20,229.45 L572.27,228.86 L572.33,228.28 L572.40,227.69 L572.47,227.11 L572.54,226.52 L572.61,225.94 L572.67,225.36 L572.74,224.77 L572.81,224.19 L572.88,223.60 L572.94,223.02 L573.01,222.43 L573.08,221.85 L573.15,221.27 L573.21,220.68 L573.28,220.10 L573.35,219.51 L573.41,218.93 L573.48,218.34 L573.55,217.76 L573.61,217.18 L573.68,216.59 L573.74,216.01 L573.81,215.42 L573.88,214.84 L573.94,214.25 L574.01,213.67 L574.07,213.09 L574.14,212.50 L574.21,211.92 L574.27,211.33 L574.34,210.75 L574.40,210.16 L574.47,209.58 L574.53,208.99 L574.60,208.41 L574.66,207.83 L574.73,207.24 L574.79,206.66 L574.86,206.07 L574.92,205.49 L574.98,204.90 L575.05,204.32 L575.11,203.74 L575.18,203.15 L575.24,202.57 L575.30,201.98 L575.37,201.40 L575.43,200.81 L575.50,200.23 L575.56,199.65 L575.62,199.06 L575.69,198.48 L575.75,197.89 L575.81,197.31 L575.88,196.72 L575.94,196.14 L576.00,195.56 L576.06,194.97 L576.13,194.39 L576.19,193.80 L576.25,193.22 L576.31,192.63 L576.38,192.05 L576.44,191.47 L576.50,190.88 L576.56,190.30 L576.62,189.71 L576.69,189.13 L576.75,188.54 L576.81,187.96 L576.87,187.38 L576.93,186.79 L576.99,186.21 L577.05,185.62 L577.12,185.04 L577.18,184.45 L577.24,183.87 L577.30,183.29 L577.36,182.70 L577.42,182.12 L577.48,181.53 L577.54,180.95 L577.60,180.36 L577.66,179.78 L577.72,179.20 L577.78,178.61 L577.84,178.03 L577.90,177.44 L577.96,176.86 L578.02,176.27 L578.08,175.69 L578.14,175.11 L578.20,174.52 L578.26,173.94 L578.32,173.35 L578.38,172.77 L578.44,172.18 L578.49,171.60 L578.55,171.02 L578.61,170.43 L578.67,169.85 L578.73,169.26 L578.79,168.68 L578.85,168.09 L578.90,167.51 L578.96,166.92 L579.02,166.34 L579.08,165.76 L579.14,165.17 L579.19,164.59 L579.25,164.00 L579.31,163.42 L579.37,162.83 L579.42,162.25 L579.48,161.67 L579.54,161.08 L579.60,160.50 L579.65,159.91 L579.71,159.33 L579.77,158.74 L579.82,158.16 L579.88,157.58 L579.94,156.99 L579.99,156.41 L580.05,155.82 L580.11,155.24 L580.16,154.65 L580.22,154.07 L580.27,153.49 L580.33,152.90 L580.39,152.32 L580.44,151.73 L580.50,151.15 L580.55,150.56 L580.61,149.98 L580.66,149.40 L580.72,148.81 L580.77,148.23 L580.83,147.64 L580.88,147.06 L580.94,146.47 L580.99,145.89 L581.05,145.31 L581.10,144.72 L581.16,144.14 L581.21,143.55 L581.26,142.97 L581.32,142.38 L581.37,141.80 L581.43,141.22 L581.48,140.63 L581.53,140.05 L581.59,139.46 L581.64,138.88 L581.69,138.29 L581.75,137.71 L581.80,137.13 L581.85,136.54 L581.91,135.96 L581.96,135.37 L582.01,134.79 L582.07,134.20 L582.12,133.62 L582.17,133.04 L582.22,132.45 L582.28,131.87 L582.33,131.28 L582.38,130.70 L582.43,130.11 L582.48,129.53 L582.54,128.94 L582.59,128.36 L582.64,127.78 L582.69,127.19 L582.74,126.61 L582.79,126.02 L582.85,125.44 L582.90,124.85 L582.95,124.27 L583.00,123.69 L583.05,123.10 L583.10,122.52 L583.15,121.93 L583.20,121.35 L583.25,120.76 L583.30,120.18 L583.35,119.60 L583.40,119.01 L583.45,118.43 L583.50,117.84 L583.55,117.26 L583.60,116.67 L583.65,116.09 L583.70,115.51 L583.75,114.92 L583.80,114.34 L583.85,113.75 L583.90,113.17 L583.95,112.58 L584.00,112.00 L584.08,111.00 L584.17,110.01 L584.25,109.01 L584.33,108.01 L584.42,107.02 L584.50,106.02 L584.59,105.02 L584.67,104.03 L584.75,103.03 L584.84,102.04 L584.92,101.04 L585.00,100.04 L585.09,99.05 L585.17,98.05 L585.26,97.05 L585.34,96.06 L585.42,95.06 L585.51,94.06 L585.59,93.07 L585.67,92.07" fill="none"/>
<text font-size="23" fill="#94e03a" stroke="#94e03a" textLength="171.4" lengthAdjust="spacingAndGlyphs"><textPath href="#lharc" startOffset="17.96">LH - HORMON</textPath></text>
<text font-size="23" fill="#94e03a" stroke="#94e03a" textLength="180.1" lengthAdjust="spacingAndGlyphs"><textPath href="#lharc" startOffset="194.74">LUTENIZUJĄCY</textPath></text>
<path id="pgarc" d="M858.0,333.08 L860.0,332.35 L862.0,331.65 L864.0,330.96 L866.0,330.30 L868.0,329.65 L870.0,329.02 L872.0,328.41 L874.0,327.82 L876.0,327.25 L878.0,326.69 L880.0,326.16 L882.0,325.64 L884.0,325.14 L886.0,324.66 L888.0,324.19 L890.0,323.75 L892.0,323.32 L894.0,322.92 L896.0,322.53 L898.0,322.16 L900.0,321.80 L902.0,321.47 L904.0,321.15 L906.0,320.85 L908.0,320.57 L910.0,320.31 L912.0,320.06 L914.0,319.83 L916.0,319.62 L918.0,319.43 L920.0,319.26 L922.0,319.10 L924.0,318.96 L926.0,318.84 L928.0,318.73 L930.0,318.65 L932.0,318.58 L934.0,318.53 L936.0,318.49 L938.0,318.48 L940.0,318.48 L942.0,318.49 L944.0,318.53 L946.0,318.58 L948.0,318.65 L950.0,318.73 L952.0,318.84 L954.0,318.96 L956.0,319.09 L958.0,319.25 L960.0,319.42 L962.0,319.61 L964.0,319.81 L966.0,320.03 L968.0,320.27 L970.0,320.52 L972.0,320.80 L974.0,321.08 L976.0,321.39 L978.0,321.71 L980.0,322.05 L982.0,322.40 L984.0,322.77 L986.0,323.16 L988.0,323.56 L990.0,323.98 L992.0,324.41 L994.0,324.86 L996.0,325.33 L998.0,325.81 L1000.0,326.31 L1002.0,326.83 L1004.0,327.36 L1006.0,327.91 L1008.0,328.47 L1010.0,329.05 L1012.0,329.65 L1014.0,330.26 L1016.0,330.88 L1018.0,331.53 L1020.0,332.18 L1022.0,332.86 L1024.0,333.55 L1026.0,334.25 L1028.0,334.97 L1030.0,335.71 L1032.0,336.46 L1034.0,337.22 L1036.0,338.00 L1038.0,338.80 L1040.0,339.61 L1042.0,340.44 L1044.0,341.28 L1046.0,342.14 L1048.0,343.01 L1050.0,343.90" fill="none"/>
<text font-size="23" fill="#4432b8" stroke="#4432b8" textLength="177.0" lengthAdjust="spacingAndGlyphs"><textPath href="#pgarc" startOffset="7.2">PROGESTERON</textPath></text>
<g transform="translate(1210,640) scale(0.08219)">
<path d="M345,170 C345,95 400,70 440,70 C495,70 540,105 540,170 C540,215 525,245 515,262 C590,280 648,320 648,380 C648,440 630,490 600,520 L300,540 L300,300 Z" fill="#22aa22"/>
<path d="M170,165 C170,95 210,68 255,68 C310,68 345,110 345,160 C345,215 335,250 330,265 L350,300 L330,560 L120,560 C95,520 82,460 85,380 C88,320 120,290 185,268 C176,245 170,210 170,165 Z" fill="#55cc11"/>
<path d="M378,195 C378,150 400,128 437,128 C475,128 497,155 497,195 C497,230 485,255 470,272 C520,285 565,310 568,360 C570,420 560,480 540,520 L270,530 C258,470 252,400 262,340 C275,300 330,285 400,272 C388,255 378,230 378,195 Z" fill="#ccccff"/>
<path d="M190,610 L300,600 C305,640 300,680 290,700 C250,690 215,660 190,610 Z" fill="#55cc11"/>
<path d="M420,600 L530,590 C510,640 470,690 420,700 C410,670 412,630 420,600 Z" fill="#22aa22"/>
<ellipse cx="385" cy="435" rx="78" ry="88" transform="rotate(15 385 435)" fill="#e07a22"/>
<path d="M70,528 C160,545 260,565 380,548 C470,535 540,500 590,488 C625,480 640,505 630,530 C615,565 540,585 440,605 C330,625 230,628 160,590 C120,570 90,550 70,528 Z" fill="#e07a22"/>
</g>

</svg>
</body></html>
